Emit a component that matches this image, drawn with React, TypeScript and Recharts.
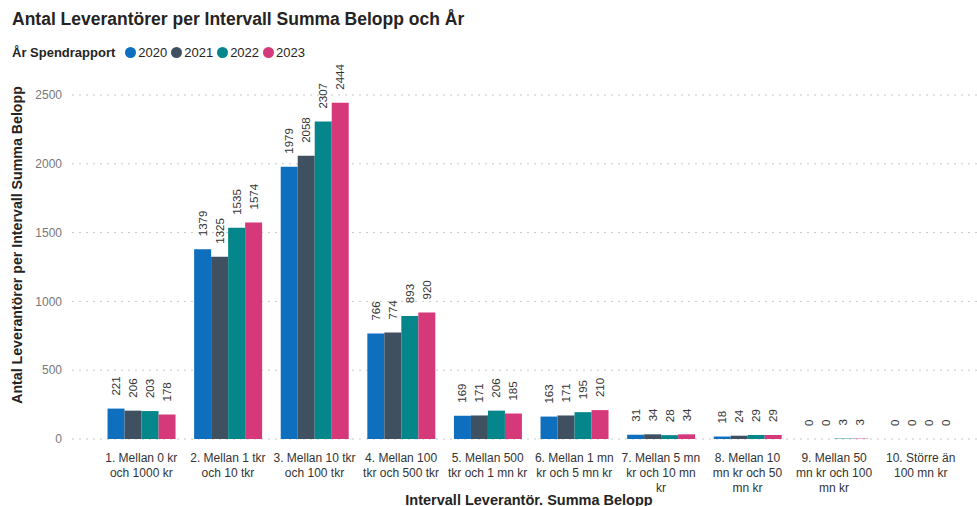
import { BarChart, Bar, XAxis, YAxis, CartesianGrid, LabelList } from 'recharts';

// category labels, split the way the axis wraps them
const CATEGORY_LINES = [
  ['1. Mellan 0 kr', 'och 1000 kr'],
  ['2. Mellan 1 tkr', 'och 10 tkr'],
  ['3. Mellan 10 tkr', 'och 100 tkr'],
  ['4. Mellan 100', 'tkr och 500 tkr'],
  ['5. Mellan 500', 'tkr och 1 mn kr'],
  ['6. Mellan 1 mn', 'kr och 5 mn kr'],
  ['7. Mellan 5 mn', 'kr och 10 mn', 'kr'],
  ['8. Mellan 10', 'mn kr och 50', 'mn kr'],
  ['9. Mellan 50', 'mn kr och 100', 'mn kr'],
  ['10. Större än', '100 mn kr'],
];

const YEARS = ['2020', '2021', '2022', '2023'];

const V2020 = [221, 1379, 1979, 766, 169, 163, 31, 18, 0, 0];
const V2021 = [206, 1325, 2058, 774, 171, 171, 34, 24, 0, 0];
const V2022 = [203, 1535, 2307, 893, 206, 195, 28, 29, 3, 0];
const V2023 = [178, 1574, 2444, 920, 185, 210, 34, 29, 3, 0];

const Y_TICKS = [0, 500, 1000, 1500, 2000, 2500];

const COLORS = ['#0F6FBF', '#3F5161', '#04868A', '#D6397A'];

const FONT = '"Liberation Sans", Arial, sans-serif';

const data = CATEGORY_LINES.map((lines, i) => ({
  name: lines.join(' '),
  '2020': V2020[i],
  '2021': V2021[i],
  '2022': V2022[i],
  '2023': V2023[i],
}));

const BarValue = (props: any) => {
  const { x, y, width, value } = props;
  const cx = x + width / 2;
  const cy = y - 13;
  return (
    <text
      x={cx}
      y={cy}
      transform={`rotate(-90, ${cx}, ${cy})`}
      textAnchor="start"
      dominantBaseline="central"
      fontSize={11.5}
      fill="#333"
      fontFamily={FONT}
    >
      {value}
    </text>
  );
};

const CategoryTick = (props: any) => {
  const { x, y, index } = props;
  const lines = CATEGORY_LINES[index] || [];
  return (
    <text
      x={x}
      y={y + 15}
      textAnchor="middle"
      fontSize={12}
      fill="#333"
      fontFamily={FONT}
    >
      {lines.map((ln, i) => (
        <tspan key={i} x={x} dy={i === 0 ? 0 : 15}>
          {ln}
        </tspan>
      ))}
    </text>
  );
};

// zero-valued bars still need a rect so the "0" label is drawn
const tinyForZero = (value: number) => (value === 0 ? 0.01 : 0);

export default function App() {
  return (
    <div
      style={{
        position: 'absolute',
        left: 0,
        top: 0,
        width: 977,
        height: 506,
        overflow: 'hidden',
        background: '#fff',
        fontFamily: FONT,
      }}
    >
      <div
        style={{
          position: 'absolute',
          left: 12,
          top: 9,
          fontSize: 17.5,
          fontWeight: 'bold',
          color: '#252423',
        }}
      >
        Antal Leverantörer per Intervall Summa Belopp och År
      </div>
      <div
        style={{
          position: 'absolute',
          left: 12,
          top: 45,
          display: 'flex',
          alignItems: 'center',
          fontSize: 13,
          color: '#252423',
        }}
      >
        <span style={{ fontWeight: 'bold', marginRight: 10 }}>År Spendrapport</span>
        {YEARS.map((yr, i) => (
          <span key={yr} style={{ display: 'flex', alignItems: 'center', marginRight: 4 }}>
            <span
              style={{
                width: 11,
                height: 11,
                borderRadius: '50%',
                background: COLORS[i],
                marginRight: 2,
                display: 'inline-block',
              }}
            />
            {yr}
          </span>
        ))}
      </div>
      <BarChart
        width={977}
        height={506}
        data={data}
        margin={{ top: 95, right: 0, left: 0, bottom: 0 }}
        barCategoryGap="11%"
        barGap={0}
      >
        <CartesianGrid
          vertical={false}
          stroke="#c8c8c8"
          strokeDasharray="2 5"
        />
        <XAxis
          dataKey="name"
          height={67}
          interval={0}
          tickLine={false}
          axisLine={false}
          padding={{ left: 26, right: 13 }}
          tick={<CategoryTick />}
          label={{
            content: (p: any) => {
              const vb = p.viewBox;
              return (
                <text
                  x={529}
                  y={vb.y + vb.height - 1}
                  textAnchor="middle"
                  fontSize={14.5}
                  fontWeight="bold"
                  fill="#252423"
                  fontFamily={FONT}
                >
                  Intervall Leverantör. Summa Belopp
                </text>
              );
            },
          }}
        />
        <YAxis
          width={72}
          domain={[0, 2500]}
          ticks={Y_TICKS}
          tickLine={false}
          axisLine={false}
          tickMargin={4}
          tick={{ fontSize: 12, fill: '#777', fontFamily: FONT }}
          label={{
            content: (p: any) => {
              const vb = p.viewBox;
              const cx = 22;
              const cy = vb.y + vb.height / 2 - 22;
              return (
                <text
                  x={cx}
                  y={cy}
                  transform={`rotate(-90, ${cx}, ${cy})`}
                  textAnchor="middle"
                  fontSize={14.2}
                  fontWeight="bold"
                  fill="#252423"
                  fontFamily={FONT}
                >
                  Antal Leverantörer per Intervall Summa Belopp
                </text>
              );
            },
          }}
        />
        {YEARS.map((yr, i) => (
          <Bar
            key={yr}
            dataKey={yr}
            fill={COLORS[i]}
            minPointSize={tinyForZero}
            isAnimationActive={false}
          >
            <LabelList dataKey={yr} content={<BarValue />} />
          </Bar>
        ))}
      </BarChart>
    </div>
  );
}
